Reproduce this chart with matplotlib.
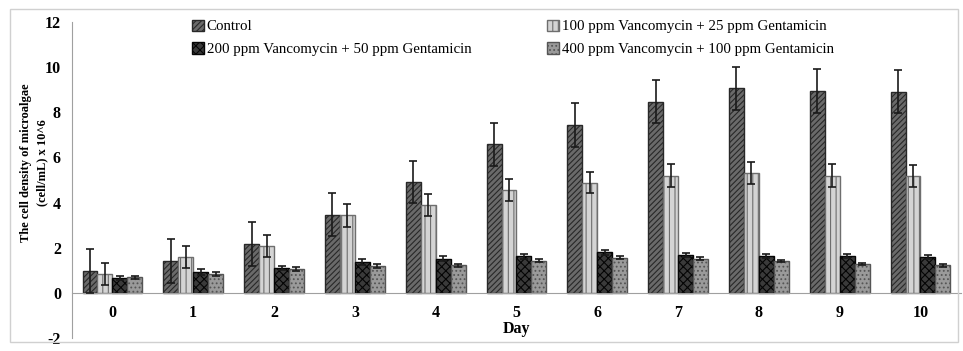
import numpy as np
import matplotlib
matplotlib.use("Agg")
import matplotlib.pyplot as plt
from matplotlib.patches import Rectangle

days = [0, 1, 2, 3, 4, 5, 6, 7, 8, 9, 10]
labels = ["Control",
          "100 ppm Vancomycin + 25 ppm Gentamicin",
          "200 ppm Vancomycin + 50 ppm Gentamicin",
          "400 ppm Vancomycin + 100 ppm Gentamicin"]

control = [0.96, 1.40, 2.16, 3.46, 4.93, 6.58, 7.45, 8.48, 9.06, 8.95, 8.92]
control_err = [0.98, 0.97, 0.96, 0.96, 0.93, 0.96, 0.97, 0.97, 0.97, 0.96, 0.96]
v100 = [0.85, 1.59, 2.06, 3.43, 3.90, 4.54, 4.89, 5.20, 5.32, 5.20, 5.17]
v100_err = [0.48, 0.47, 0.49, 0.50, 0.50, 0.49, 0.47, 0.49, 0.49, 0.49, 0.49]
v200 = [0.66, 0.93, 1.10, 1.37, 1.52, 1.62, 1.80, 1.68, 1.65, 1.65, 1.58]
v200_err = [0.10, 0.12, 0.10, 0.12, 0.10, 0.10, 0.10, 0.10, 0.09, 0.09, 0.09]
v400 = [0.69, 0.84, 1.06, 1.18, 1.22, 1.43, 1.55, 1.52, 1.41, 1.28, 1.22]
v400_err = [0.07, 0.07, 0.07, 0.08, 0.07, 0.07, 0.07, 0.07, 0.06, 0.06, 0.06]

plt.rcParams['font.family'] = ['Liberation Serif', 'DejaVu Serif']
plt.rcParams['hatch.linewidth'] = 0.8
plt.rcParams['axes.unicode_minus'] = False

fig = plt.figure(figsize=(9.63, 3.51), dpi=100)
ax = fig.add_axes([0.0748, 0.037, 0.923, 0.9])

# outer chart border
fig.patches.append(Rectangle((10 / 963, 1 - 342 / 351), 948 / 963, 333 / 351,
                             transform=fig.transFigure, fill=False,
                             edgecolor='#d0d0d0', linewidth=1))

series = [
    (control, control_err, '#6a6a6a', '#282828', '//////'),
    (v100, v100_err, '#d4d4d4', '#6e6e6e', '|||'),
    (v200, v200_err, '#3a3a3a', '#050505', 'xxxx'),
    (v400, v400_err, '#9a9a9a', '#555555', '....'),
]

x = np.arange(len(days))
width = 0.185
handles = []
for i, (vals, errs, fc, ec, hatch) in enumerate(series):
    pos = x + (i - 1.5) * width
    b = ax.bar(pos, vals, width, color=fc, edgecolor=ec, hatch=hatch,
               linewidth=1, label=labels[i], zorder=2)
    handles.append(b)
    ax.errorbar(pos, vals, yerr=errs, fmt='none', ecolor='#1a1a1a',
                elinewidth=1.2, capsize=3, capthick=1.2, zorder=3)

ax.set_xlim(-0.5, 10.5)
ax.set_ylim(-2, 12)
ax.set_yticks(range(-2, 13, 2))
ax.set_xticks(x)
ax.set_xticklabels([str(d) for d in days])

ax.spines['bottom'].set_position(('data', 0))
ax.spines['bottom'].set_color('#a0a0a0')
ax.spines['left'].set_color('#a0a0a0')
ax.spines['top'].set_visible(False)
ax.spines['right'].set_visible(False)
ax.tick_params(axis='both', length=0, labelsize=11.5)
ax.tick_params(axis='x', pad=9)
ax.tick_params(axis='y', pad=8)
for lab in ax.get_xticklabels() + ax.get_yticklabels():
    lab.set_fontweight('bold')

ax.set_xlabel("Day", fontsize=11.5, fontweight='bold')
ax.xaxis.set_label_coords(0.5, 0.055)

fig.text(34 / 963, 1 - 163 / 351,
         "The cell density of microalgae\n(cell/mL) x 10^6",
         rotation=90, ha='center', va='center', fontsize=9,
         fontweight='bold', linespacing=1.4)

# Excel fills the legend row by row
order = [0, 2, 1, 3]
ax.legend([handles[k] for k in order], [labels[k] for k in order],
          ncol=2, loc='upper left', bbox_to_anchor=(0.128, 1.027),
          frameon=False, fontsize=10.7, handlelength=0.8, handleheight=0.8,
          handletextpad=0.2, columnspacing=5.1, labelspacing=0.6,
          borderaxespad=0)

fig.savefig("out.png", dpi=100)
